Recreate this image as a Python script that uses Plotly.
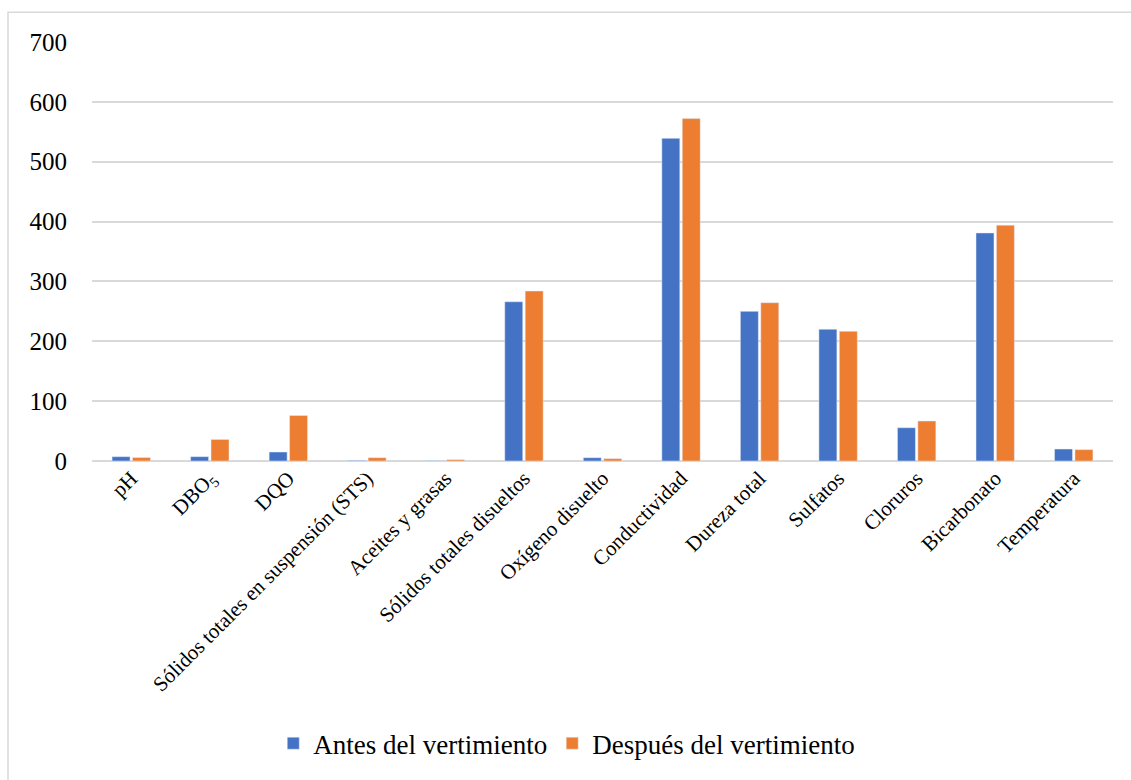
import plotly.graph_objects as go

categories = ["pH", "DBO<sub>5</sub>", "DQO", "Sólidos totales en suspensión (STS)",
              "Aceites y grasas", "Sólidos totales disueltos", "Oxígeno disuelto",
              "Conductividad", "Dureza total", "Sulfatos", "Cloruros", "Bicarbonato",
              "Temperatura"]
antes = [7.2, 7.2, 15, 1, 0.6, 266, 5.5, 539, 250, 220, 55.6, 381, 20]
despues = [5.8, 36, 76, 5.5, 2.2, 284, 3.9, 572, 264.5, 216.6, 66.8, 394, 19]
y_ticks = [0, 100, 200, 300, 400, 500, 600, 700]

SERIF = "Liberation Serif"

fig = go.Figure()
fig.add_trace(go.Bar(x=categories, y=antes, name="Antes del vertimiento",
                     marker=dict(color="#4472C4")))
fig.add_trace(go.Bar(x=categories, y=despues, name="Después del vertimiento",
                     marker=dict(color="#ED7D31")))

W, H = 1131, 780
L, R, T, B = 92, 18, 42, 317
pw, ph = W - L - R, H - T - B

fig.update_layout(
    width=W, height=H,
    margin=dict(l=L, r=R, t=T, b=B),
    paper_bgcolor="white", plot_bgcolor="white",
    barmode="group", bargap=0.48, bargroupgap=0.12,
    font=dict(family=SERIF, color="black"),
    showlegend=True,
    legend=dict(orientation="h", x=0.465, xanchor="center",
                y=(463 - 747) / ph, yanchor="middle",
                font=dict(size=27, family=SERIF, color="black"),
                itemwidth=30, traceorder="normal"),
    shapes=[dict(type="rect", xref="paper", yref="paper",
                 x0=(8 - L) / pw, x1=(W + 20 - L) / pw,
                 y0=(463 - H - 20) / ph, y1=(463 - 12) / ph,
                 line=dict(color="#d9d9d9", width=1.5), fillcolor="rgba(0,0,0,0)",
                 layer="below")],
)
fig.update_xaxes(tickangle=-45, tickfont=dict(size=21, family=SERIF),
                 showgrid=False, showline=False, ticks="")
fig.update_yaxes(range=[0, 700], tickvals=y_ticks, ticktext=[str(v) for v in y_ticks],
                 tickfont=dict(size=25, family=SERIF),
                 showgrid=True, gridcolor="#d9d9d9", gridwidth=1.5,
                 zeroline=True, zerolinecolor="#d9d9d9", zerolinewidth=1.5,
                 ticks="", ticklabelstandoff=24)

fig.write_html("out.html")
